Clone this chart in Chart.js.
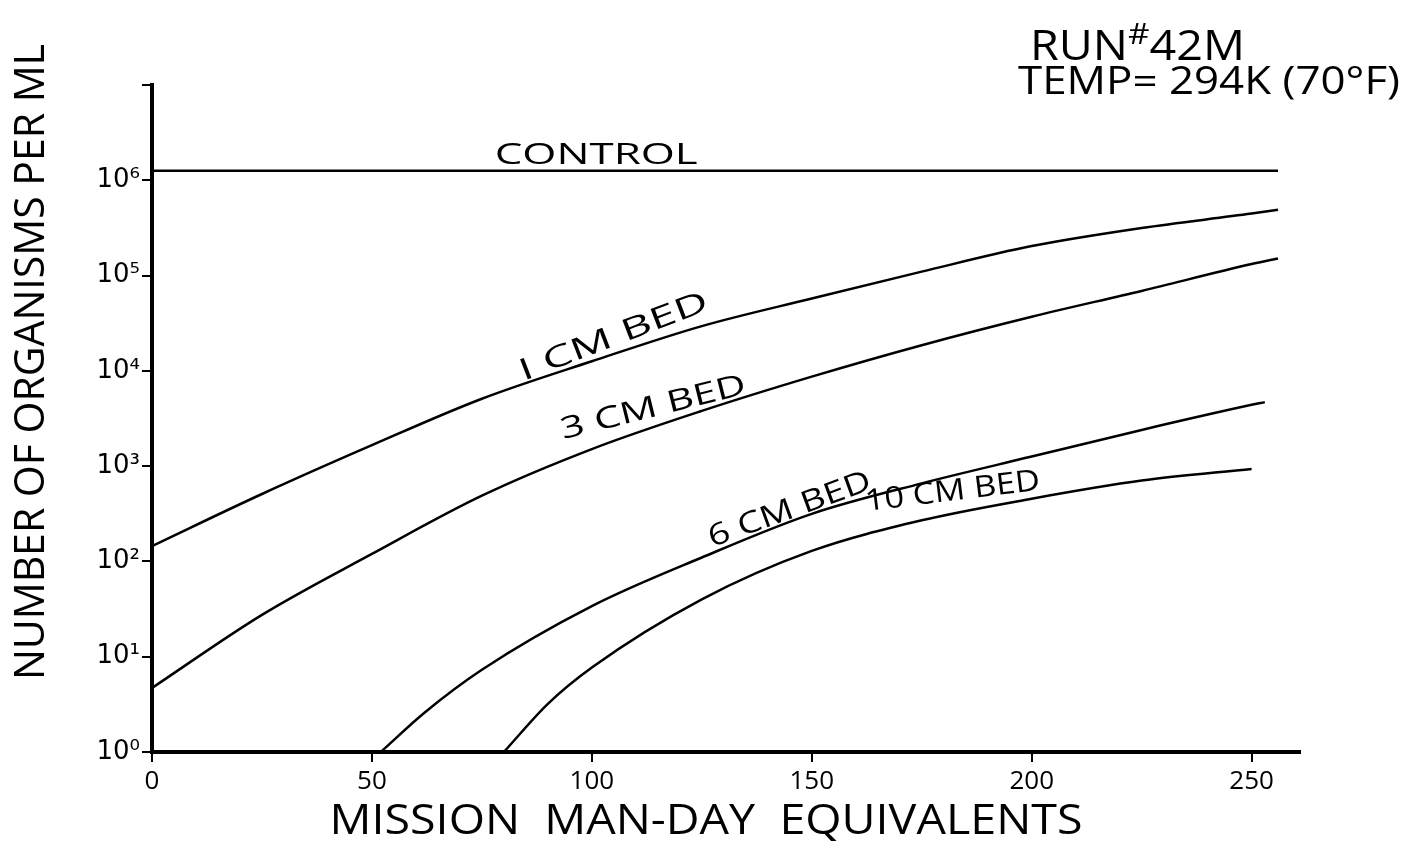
<!DOCTYPE html>
<html>
<head>
<meta charset="utf-8">
<script src="https://cdn.jsdelivr.net/npm/chart.js@4"></script>
<style>
  html, body { margin: 0; padding: 0; background: #fff; }
</style>
</head>
<body>
<canvas id="canvas" width="1402" height="856"></canvas>
<script>
// Axes
let dayTicks = [0, 50, 100, 150, 200, 250];
let yDecades = [1, 10, 100, 1000, 10000, 100000, 1000000, 10000000];
let yTickLabels = ["10⁰", "10¹", "10²", "10³", "10⁴", "10⁵", "10⁶", ""];

// Series (mission man-day equivalents -> organisms per ml)
let controlX = [0, 256];
let controlY = [1260000, 1260000];

let bed1X = [0, 25, 50, 75, 100, 125, 150, 175, 200, 225, 250, 256];
let bed1Y = [145, 510, 1660, 5100, 12600, 29500, 57500, 110000, 204000, 316000, 447000, 490000];

let bed3X = [0, 25, 50, 75, 100, 125, 150, 175, 200, 225, 250, 256];
let bed3Y = [4.7, 27.5, 120, 490, 1510, 3800, 8700, 18600, 37000, 69000, 132000, 151000];

let bed6X = [52, 62, 75, 100, 125, 150, 175, 200, 225, 250, 253];
let bed6Y = [1, 2.6, 7.3, 34, 110, 316, 660, 1260, 2400, 4400, 4700];

let bed10X = [80, 90, 100, 125, 150, 175, 200, 225, 250];
let bed10Y = [1, 3.2, 7.7, 40, 129, 270, 455, 705, 935];

// curve labels anchored in data coordinates
let curveLabels = [
  { text: "CONTROL",   x: 101, y: 1840000, angle: 0,   width: 203 },
  { text: "I CM BED",  x: 105, y: 22600,   angle: -21, width: 200 },
  { text: "3 CM BED",  x: 114, y: 4070,    angle: -14, width: 190 },
  { text: "6 CM BED",  x: 145, y: 347,     angle: -20, width: 171 },
  { text: "10 CM BED", x: 182, y: 537,     angle: -7,  width: 176 }
];

const FONT = '"Open Sans", "DejaVu Sans", sans-serif';

function pairs(xs, ys) {
  return xs.map((x, i) => ({ x: x, y: ys[i] }));
}

function curve(label, xs, ys) {
  return {
    label: label,
    data: pairs(xs, ys),
    borderColor: '#000',
    borderWidth: 2.5,
    pointRadius: 0,
    cubicInterpolationMode: 'monotone',
    fill: false
  };
}

// draw text stretched to a given width
function fitText(ctx, text, cx, cy, width, size, angle) {
  ctx.save();
  ctx.font = size + 'px ' + FONT;
  ctx.textAlign = 'center';
  ctx.textBaseline = 'middle';
  let w = ctx.measureText(text).width;
  ctx.translate(cx, cy);
  ctx.rotate(angle * Math.PI / 180);
  ctx.scale(width / w, 1);
  ctx.fillText(text, 0, 0);
  ctx.restore();
}

const handText = {
  id: 'handText',
  afterDraw(chart) {
    const ctx = chart.ctx;
    const xs = chart.scales.x, ys = chart.scales.y;
    ctx.save();
    ctx.fillStyle = '#000';

    curveLabels.forEach(l => {
      fitText(ctx, l.text, xs.getPixelForValue(l.x), ys.getPixelForValue(l.y), l.width, 30, l.angle);
    });

    // axis titles
    fitText(ctx, "NUMBER OF ORGANISMS PER ML", 32, 362, 636, 42, -90);
    fitText(ctx, "MISSION  MAN-DAY  EQUIVALENTS", 706, 822, 753, 42, 0);

    // run info, top right (stretched to the hand-written width)
    ctx.textAlign = 'left';
    ctx.textBaseline = 'alphabetic';
    ctx.font = '42px ' + FONT;
    let wRun = ctx.measureText("RUN").width, w42 = ctx.measureText("42M").width;
    ctx.font = '30px ' + FONT;
    let wHash = ctx.measureText("#").width;
    let k = 215 / (wRun + wHash + w42);
    ctx.translate(1030, 0);
    ctx.scale(k, 1);
    ctx.font = '42px ' + FONT;
    ctx.fillText("RUN", 0, 60);
    ctx.font = '30px ' + FONT;
    ctx.fillText("#", wRun, 44);
    ctx.font = '42px ' + FONT;
    ctx.fillText("42M", wRun + wHash, 60);
    ctx.restore();

    fitText(ctx, "TEMP= 294K (70°F)", 1209, 83, 382, 38, 0);
  }
};

new Chart(document.getElementById('canvas').getContext('2d'), {
  type: 'line',
  data: {
    datasets: [
      curve('Control', controlX, controlY),
      curve('1 cm bed', bed1X, bed1Y),
      curve('3 cm bed', bed3X, bed3Y),
      curve('6 cm bed', bed6X, bed6Y),
      curve('10 cm bed', bed10X, bed10Y)
    ]
  },
  options: {
    responsive: false,
    animation: false,
    layout: { padding: { top: 85, right: 102, bottom: 0, left: 0 } },
    plugins: { legend: { display: false }, tooltip: { enabled: false } },
    scales: {
      x: {
        type: 'linear',
        min: 0,
        max: 261,
        afterFit: s => { s.height = 104; },
        afterBuildTicks: s => { s.ticks = dayTicks.map(v => ({ value: v })); },
        border: { display: true, color: '#000', width: 4 },
        grid: { drawOnChartArea: false, drawTicks: true, tickLength: 10, color: '#000', lineWidth: 2 },
        ticks: { color: '#000', padding: 4, font: { family: FONT, size: 26 } }
      },
      y: {
        type: 'logarithmic',
        min: 1,
        max: 10000000,
        afterFit: s => { s.width = 152; },
        afterBuildTicks: s => { s.ticks = yDecades.map(v => ({ value: v })); },
        border: { display: true, color: '#000', width: 4 },
        grid: { drawOnChartArea: false, drawTicks: true, tickLength: 10, color: '#000', lineWidth: 2 },
        ticks: {
          color: '#000',
          padding: 2,
          font: { family: '"DejaVu Sans", sans-serif', size: 26 },
          callback: v => yTickLabels[yDecades.indexOf(v)]
        }
      }
    }
  },
  plugins: [handText]
});
</script>
</body>
</html>
